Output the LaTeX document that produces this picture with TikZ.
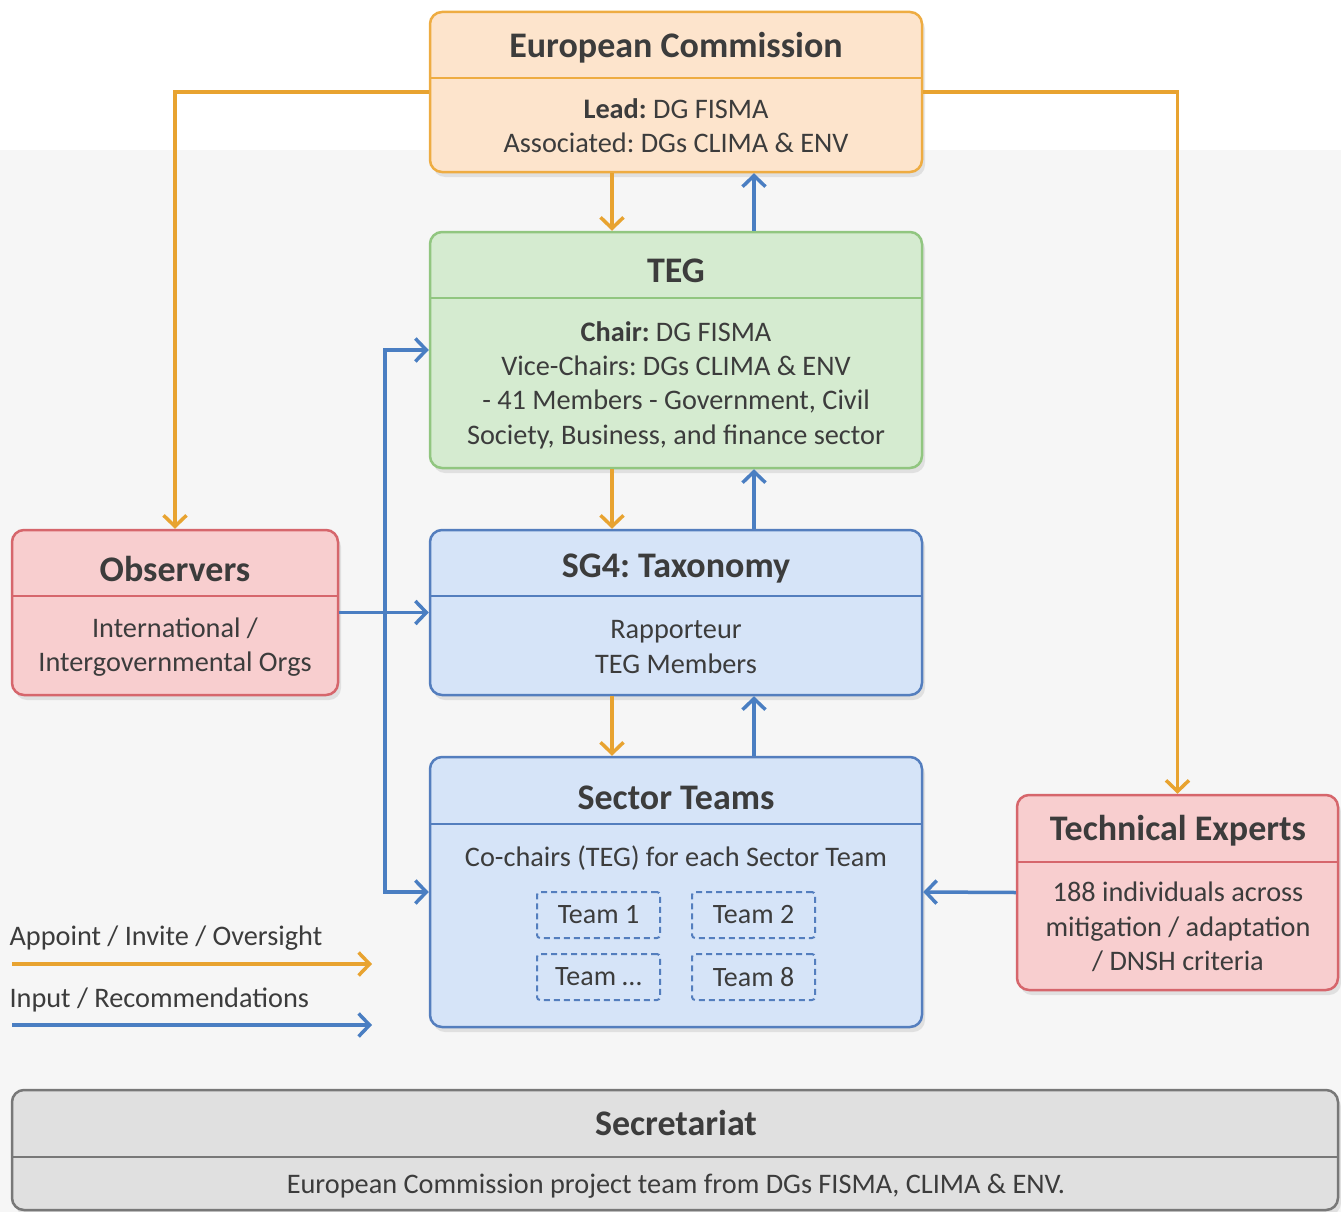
\documentclass[tikz,border=0pt]{standalone}
\usepackage{fontspec}
\setmainfont{Carlito}
\usetikzlibrary{arrows.meta,shadows}
\frenchspacing

\definecolor{appointc}{RGB}{232,163,48}
\definecolor{inputc}{RGB}{74,126,194}
\definecolor{pagebg}{RGB}{246,246,246}
\definecolor{textc}{RGB}{60,60,60}
\definecolor{ecfill}{RGB}{253,228,204}
\definecolor{ecdraw}{RGB}{238,172,66}
\definecolor{tegfill}{RGB}{213,235,208}
\definecolor{tegdraw}{RGB}{145,198,128}
\definecolor{sgfill}{RGB}{214,228,248}
\definecolor{sgdraw}{RGB}{84,126,190}
\definecolor{obsfill}{RGB}{248,206,207}
\definecolor{obsdraw}{RGB}{214,102,108}
\definecolor{secfill}{RGB}{224,224,224}
\definecolor{secdraw}{RGB}{120,120,120}

\tikzset{
  orgbox/.style={rounded corners=12pt, line width=2.5pt, minimum width=492pt,
    drop shadow={shadow xshift=3pt, shadow yshift=-5pt, opacity=0.18}},
  ecbox/.style={orgbox, draw=ecdraw, fill=ecfill},
  tegbox/.style={orgbox, draw=tegdraw, fill=tegfill},
  sgbox/.style={orgbox, draw=sgdraw, fill=sgfill},
  obsbox/.style={orgbox, draw=obsdraw, fill=obsfill},
  secbox/.style={orgbox, draw=secdraw, fill=secfill},
  teambox/.style={draw=sgdraw, dashed, dash pattern=on 6pt off 4pt, line width=2pt,
    rounded corners=3pt, minimum width=123pt, minimum height=46pt, text=textc,
    font=\fontsize{28}{32}\selectfont},
  ttl/.style={text=textc, font=\fontsize{36}{40}\selectfont\bfseries},
  txt/.style={text=textc, align=center, font=\fontsize{28.3}{34.3}\selectfont},
  appoint/.style={draw=appointc, line width=3.5pt, -{Straight Barb[length=11pt,width=23pt]}},
  recommend/.style={draw=inputc, line width=3.5pt, -{Straight Barb[length=11pt,width=23pt]}}
}

\begin{document}
\begin{tikzpicture}[x=1pt,y=-1pt]
\useasboundingbox (0,0) rectangle (1341,1212);
\fill[pagebg] (0,150) rectangle (1341,1212);

% boxes
\node[ecbox, minimum height=160pt] (ec) at (676,92) {};
\node[tegbox, minimum height=236pt] (teg) at (676,350) {};
\node[sgbox, minimum height=165pt] (sg4) at (676,612.5) {};
\node[sgbox, minimum height=270pt] (sect) at (676,892) {};
\node[obsbox, minimum width=326pt, minimum height=165pt] (obs) at (175,612.5) {};
\node[obsbox, minimum width=321pt, minimum height=195pt] (tex) at (1177.5,892.5) {};
\node[secbox, minimum width=1326pt, minimum height=120pt] (secr) at (675,1150) {};

% dividers
\draw[ecdraw, line width=1.5pt] (430,78) -- (922,78);
\draw[tegdraw, line width=1.5pt] (430,298) -- (922,298);
\draw[sgdraw, line width=1.5pt] (430,596) -- (922,596);
\draw[sgdraw, line width=1.5pt] (430,824) -- (922,824);
\draw[obsdraw, line width=1.5pt] (12,596) -- (338,596);
\draw[obsdraw, line width=1.5pt] (1017,862) -- (1338,862);
\draw[secdraw, line width=1.5pt] (12,1157) -- (1338,1157);

% titles
\node[ttl] (ecT) at (676,48) {European Commission};
\node[ttl] (tegT) at (676,271) {TEG};
\node[ttl] (sgT) at (676,569) {SG4: Taxonomy};
\node[ttl] (sectT) at (676,798) {Sector Teams};
\node[ttl] (obsT) at (175,569) {Observers};
\node[ttl] (texT) at (1178,831) {Technical Experts};
\node[ttl] (secrT) at (676,1123) {Secretariat};

% body text
\node[txt] (ecB) at (676,126) {\textbf{Lead:} DG FISMA\\Associated: DGs CLIMA \& ENV};
\node[txt] (tegB) at (676,385) {\textbf{Chair:} DG FISMA\\Vice-Chairs: DGs CLIMA \& ENV\\- 41 Members - Government, Civil\\Society, Business, and finance sector};
\node[txt] (sgB) at (676,647) {Rapporteur\\TEG Members};
\node[txt] (sectB) at (676,858) {Co-chairs (TEG) for each Sector Team};
\node[txt] (obsB) at (175,647) {International /\\Intergovernmental Orgs};
\node[txt] (texB) at (1178,927) {188 individuals across\\mitigation / adaptation\\/ DNSH criteria};
\node[txt] (secrB) at (676,1186) {European Commission project team from DGs FISMA, CLIMA \& ENV.};

% sector teams
\node[teambox] (t1) at (598.5,915) {Team 1};
\node[teambox] (t2) at (753.5,915) {Team 2};
\node[teambox] (tx) at (598.5,977) {Team \dots};
\node[teambox] (t8) at (753.5,977) {Team 8};

% appoint / oversight
\draw[appoint] ([xshift=-64pt]ec.south) -- ([xshift=-64pt]teg.north);
\draw[appoint] ([xshift=-64pt]teg.south) -- ([xshift=-64pt]sg4.north);
\draw[appoint] ([xshift=-64pt]sg4.south) -- ([xshift=-64pt]sect.north);
\draw[appoint] (ec.west) -| (obs.north);
\draw[appoint] (ec.east) -| (tex.north);

% input / recommendations
\draw[recommend] ([xshift=78pt]teg.north) -- ([xshift=78pt]ec.south);
\draw[recommend] ([xshift=78pt]sg4.north) -- ([xshift=78pt]teg.south);
\draw[recommend] ([xshift=78pt]sect.north) -- ([xshift=78pt]sg4.south);
\coordinate (jn) at (385,612.5);
\draw[recommend] (obs.east) -- (sg4.west);
\draw[recommend] (jn) |- (teg.west);
\draw[recommend] (jn) |- (sect.west);
\draw[recommend] (tex.west) -- (sect.east);

% legend
\node[txt, anchor=west] (lgA) at (6,938) {Appoint / Invite / Oversight};
\coordinate (lgA1) at (12,964);
\coordinate (lgA2) at (372,964);
\draw[appoint] (lgA1) -- (lgA2);
\node[txt, anchor=west] (lgI) at (6,1000) {Input / Recommendations};
\coordinate (lgI1) at (12,1025);
\coordinate (lgI2) at (372,1025);
\draw[recommend] (lgI1) -- (lgI2);
\end{tikzpicture}
\end{document}
